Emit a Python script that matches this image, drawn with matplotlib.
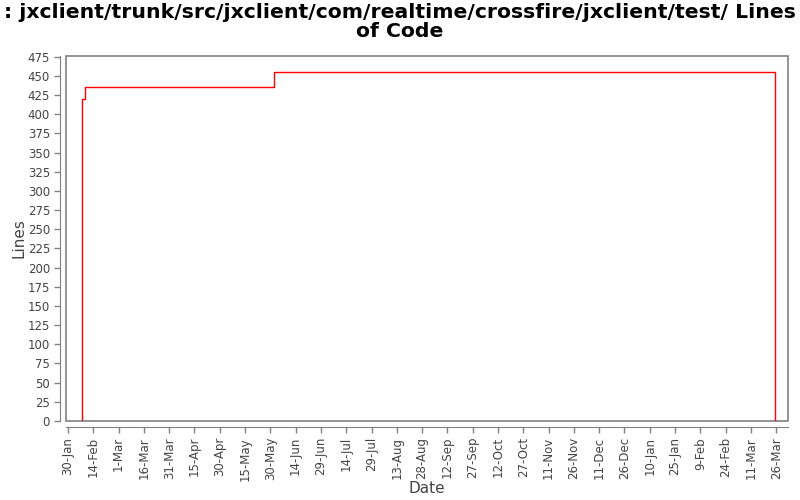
import numpy as np
import matplotlib
matplotlib.use('Agg')
import matplotlib.pyplot as plt
import matplotlib.dates as mdates
from matplotlib.patches import Rectangle
import datetime as dt

# revision dates and line counts (step series)
fechas = [dt.datetime(2006, 2, 7), dt.datetime(2006, 2, 7), dt.datetime(2006, 2, 9),
          dt.datetime(2006, 6, 1), dt.datetime(2007, 3, 25)]
lineas = [0, 420, 435, 455, 0]

titulo = ': jxclient/trunk/src/jxclient/com/realtime/crossfire/jxclient/test/ Lines\nof Code'

gris = '#808080'
texto = '#444444'

fig = plt.figure(figsize=(8, 5), dpi=100)
ax = fig.add_axes([0.0825, 0.158, 0.9025, 0.73])

ax.plot(fechas, lineas, drawstyle='steps-post', color='red', lw=1)

inicio = dt.datetime(2006, 1, 30)
ax.set_xlim(inicio - dt.timedelta(days=1.2), inicio + dt.timedelta(days=427))
ax.set_ylim(0, 476)

ticks = [inicio + dt.timedelta(days=15 * i) for i in range(29)]
ax.set_xticks(ticks)
ax.xaxis.set_major_formatter(mdates.DateFormatter('%-d-%b'))
ax.set_yticks(np.arange(0, 476, 25))

ax.tick_params(axis='x', labelrotation=90)
ax.tick_params(axis='both', colors=gris, labelcolor=texto, labelsize=8.5, length=4, width=1)

for s in ['top', 'right']:
    ax.spines[s].set_visible(False)
for s in ['left', 'bottom']:
    ax.spines[s].set_position(('outward', 4))
    ax.spines[s].set_color(gris)

# plot border
ax.add_patch(Rectangle((0, 0), 1, 1, transform=ax.transAxes, fill=False,
                       edgecolor=gris, lw=1.2, clip_on=False))

ax.set_xlabel('Date', fontsize=11, color=texto, labelpad=0)
ax.set_ylabel('Lines', fontsize=11, color=texto, labelpad=1)

fig.suptitle(titulo, fontsize=14.7, fontweight='bold', y=0.995, linespacing=1.05)

fig.savefig('out.png', dpi=100)
